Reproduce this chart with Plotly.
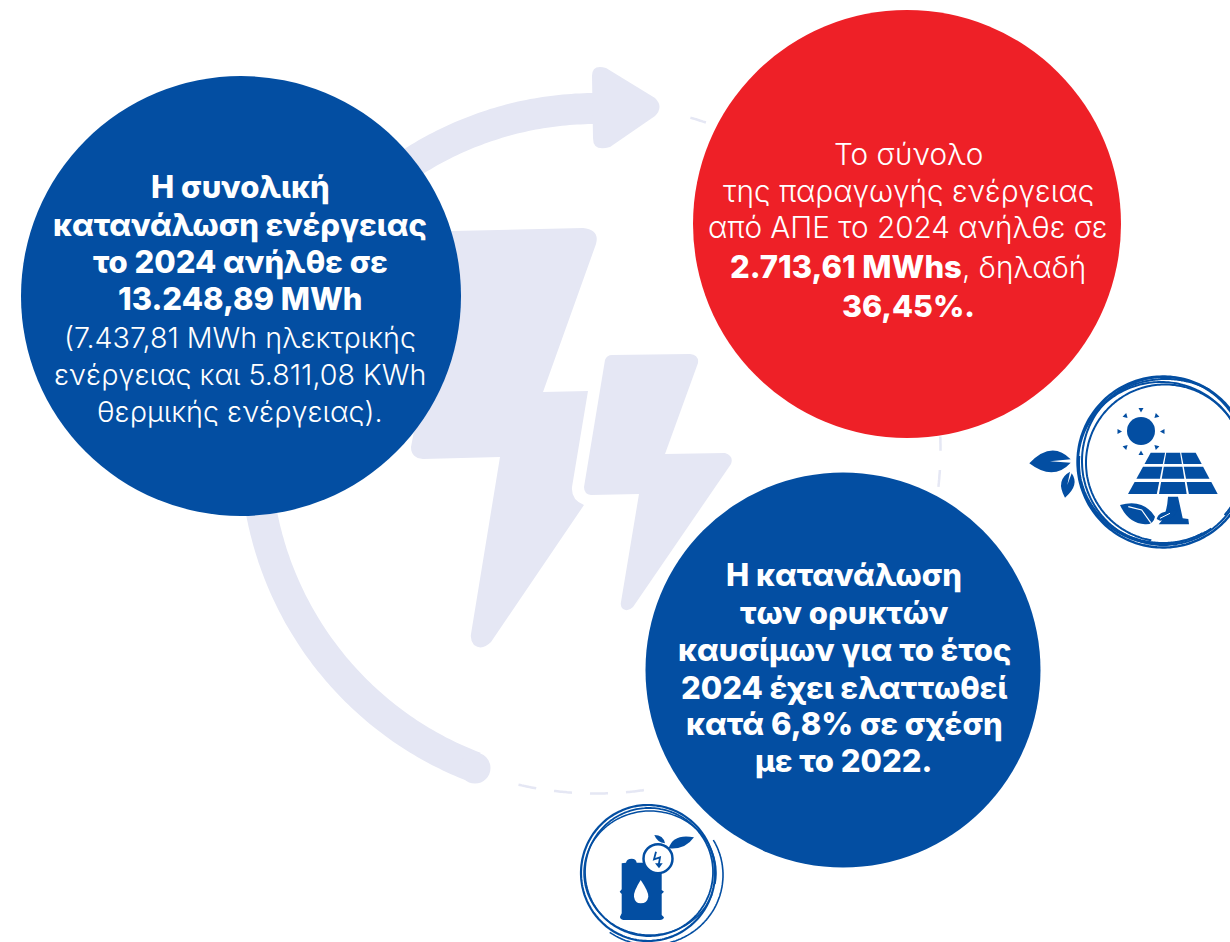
import numpy as np
import plotly.graph_objects as go

BLUE = "#034EA2"
RED = "#EE2027"
PALE = "#E5E7F4"
WHITE = "#FFFFFF"
FONT = "Inter"

LEFT_BOLD = ["Η συνολική", "κατανάλωση ενέργειας", "το 2024 ανήλθε σε", "13.248,89 MWh"]
LEFT_BOLD_Y = [186, 224, 261, 298]
LEFT_LIGHT = ["(7.437,81 MWh ηλεκτρικής", "ενέργειας και 5.811,08 KWh", "θερμικής ενέργειας)."]
LEFT_LIGHT_Y = [337, 374, 411]
RED_LIGHT = ["Το σύνολο", "της παραγωγής ενέργειας", "από ΑΠΕ το 2024 ανήλθε σε"]
RED_LIGHT_Y = [154, 191, 227]
RED_MIXED = '<span style="font-weight:800;font-size:31px">2.713,61 MWhs</span>, δηλαδή'
RED_MIXED_Y = 266
RED_BOLD = ["36,45%."]
RED_BOLD_Y = [305]
LOW_BOLD = ["Η κατανάλωση", "των ορυκτών", "καυσίμων για το έτος", "2024 έχει ελαττωθεί", "κατά 6,8% σε σχέση", "με το 2022."]
LOW_BOLD_Y = [574, 612, 649, 687, 723, 760]

shapes = []


def fill(path, color=PALE):
    shapes.append(dict(type="path", path=path, fillcolor=color, line=dict(width=0), layer="below"))


def circle(cx, cy, r, color, line=None, lw=0):
    shapes.append(dict(type="circle", x0=cx - r, x1=cx + r, y0=cy - r, y1=cy + r, fillcolor=color,
                       line=dict(width=lw, color=line or color), layer="below"))


def poly(pts, close=True):
    s = "M " + " L ".join(f"{x:.1f} {y:.1f}" for x, y in pts)
    return s + (" Z" if close else "")


def arc_pts(cx, cy, rx, ry, a0, a1, n=120):
    t = np.radians(np.linspace(a0, a1, n))
    return list(zip(cx + rx * np.cos(t), cy + ry * np.sin(t)))


def stroke(pts, color=BLUE, w=2.0):
    shapes.append(dict(type="path", path=poly(pts, close=False), line=dict(width=w, color=color), layer="below"))


CX, CY, R, BAND = 596, 449, 340.5, 15.5

# dashed ring
for a0, a1 in [(103, 100), (97, 94), (91, 88), (85, 82), (-2.1, 0.3), (3.5, 6.3), (-74.1, -71.4)]:
    stroke(arc_pts(CX, CY, 344.5, 344.5, a0, a1, 12), PALE, 2.5)

# main ring band (angles in screen degrees, y down)
a_start, a_end = 110.8, 270
outer = arc_pts(CX, CY, R + BAND, R + BAND, a_start, a_end, 240)
inner = arc_pts(CX, CY, R - BAND, R - BAND, a_end, a_start, 240)
fill(poly(outer + inner))
circle(475, 768, BAND, PALE)

# arrow head
fill("M 592 76 Q 592 64 606 68 L 655 98 Q 664 107 655 116 L 610 147 Q 593 152 593 138 Z")

# big bolt
fill("M 452 231 L 583 228 Q 600 230 596 244 L 543 392 L 588 391 L 572 487 Q 571 500 584 505 "
     "L 491 642 Q 482 651 474 645 Q 470 640 471 634 L 500 457 L 423 459 Q 411 458 411 447 Z")
# small bolt
fill("M 605 360 Q 607 355 612 355 L 690 354 Q 699 355 698 363 L 665 454 L 725 453 Q 734 456 731 464 "
     "L 633 607 Q 628 612 623 609 Q 620 606 621 602 L 639 494 L 591 495 Q 584 494 584 487 Z")

# main circles
circle(241, 296, 220, BLUE)
circle(907, 224, 214, RED)
circle(843, 670, 197.5, BLUE)


def z1(x, y):
    return 1020 + x / 3, 370 + y / 3


def z2(x, y):
    return 570 + x / 3, 800 + y / 3


def zpath(z, s):
    out = []
    tok = s.split()
    i = 0
    while i < len(tok):
        if tok[i].isalpha():
            out.append(tok[i])
            i += 1
        else:
            x, y = z(float(tok[i]), float(tok[i + 1]))
            out.append(f"{x:.1f} {y:.1f}")
            i += 2
    return " ".join(out)


# ---- solar icon ----
for cx, cy, rx, ry, a0, a1, w in [
    (1163, 462, 85.5, 85.5, 0, 360, 2.4),
    (1164, 461, 82, 84, 20, 350, 2.0),
    (1161, 463, 83, 81, 60, 400, 1.9),
    (1165, 463, 79, 78.5, 100, 380, 2.0),
    (1166, 461, 88, 82, 205, 300, 2.0),
    (1163, 463, 84, 80, 55, 185, 2.0),
]:
    stroke(arc_pts(cx, cy, rx, ry, a0, a1, 200), BLUE, w)
circle(1141, 431, 14, BLUE)
for a in range(0, 360, 45):
    rc = np.radians(a)
    d = np.array([np.cos(rc), np.sin(rc)])
    n = np.array([-d[1], d[0]])
    c = np.array([1141, 431.5])
    fill(poly([c + d * 19, c + d * 23.5 + n * 2.5, c + d * 23.5 - n * 2.5]), BLUE)

ys = [(248, 282), (290, 326), (336, 372)]
xs_t, xe_t, xs_b, xe_b = 392, 527, 324, 593
for y0, y1 in ys:
    for c in range(3):
        def edge(y, f):
            t = (y - 248) / 124
            return (xs_t + (xs_b - xs_t) * t) + ((xe_t + (xe_b - xe_t) * t) - (xs_t + (xs_b - xs_t) * t)) * f
        fa, fb = c / 3 + (0.012 if c else 0), (c + 1) / 3 - (0.012 if c < 2 else 0)
        fill(poly([z1(edge(y0, fa), y0), z1(edge(y0, fb), y0), z1(edge(y1, fb), y1), z1(edge(y1, fa), y1)]), BLUE)
fill(zpath(z1, "M 444 380 L 474 380 L 488 445 L 505 447 L 507 463 L 416 463 Q 440 440 444 380 Z"), BLUE)
fill(zpath(z1, "M 300 405 Q 370 385 405 440 Q 400 465 375 463 Q 325 460 300 405 Z"), BLUE)
stroke([z1(325, 410), z1(365, 420), z1(392, 458)], WHITE, 1.2)
fill(zpath(z1, "M 410 447 Q 415 420 472 422 Q 460 450 420 452 Z"), BLUE)
stroke([z1(420, 445), z1(450, 430)], WHITE, 1.0)
# side leaves
fill(zpath(z1, "M 28 280 Q 95 210 152 268 L 90 274 L 152 278 Q 100 335 28 280 Z"), BLUE)
fill(zpath(z1, "M 135 383 Q 105 330 150 305 L 142 345 L 155 310 Q 180 345 135 383 Z"), BLUE)

# ---- barrel icon ----
for cx, cy, rx, ry, a0, a1, w in [
    (648, 873, 67, 68, 0, 360, 2.2),
    (649, 872, 64, 64, 0, 360, 1.8),
    (650, 873, 66, 62, 20, 370, 1.5),
    (651, 875, 72, 70, -30, 125, 1.6),
]:
    stroke(arc_pts(cx, cy, rx, ry, a0, a1, 200), BLUE, w)
fill(zpath(z2, "M 155 190 L 168 188 Q 170 176 185 176 Q 198 176 200 188 L 225 188 L 275 215 L 275 270 L 282 275 L 275 282 "
               "L 275 345 L 282 352 Q 280 360 270 360 L 160 360 Q 150 358 150 350 L 155 340 L 155 282 L 149 275 L 155 268 Z"), BLUE)
fill(zpath(z2, "M 212 240 Q 190 275 192 290 Q 195 310 212 310 Q 232 310 235 290 Q 236 275 212 240 Z"), WHITE)
circle(*z2(264, 176), 14.5, WHITE, BLUE, 2.5)
stroke([z2(258, 155), z2(252, 178), z2(270, 172), z2(266, 195)], BLUE, 1.8)
fill(zpath(z2, "M 255 190 L 278 190 L 267 205 Z"), BLUE)
fill(zpath(z2, "M 296 145 Q 310 100 372 112 Q 345 150 296 145 Z"), BLUE)
fill(zpath(z2, "M 285 130 Q 280 105 253 105 Q 262 128 285 130 Z"), BLUE)

# ---- text ----
annots = []


def add_text(lines, ys_, cx, size, weight):
    for t, y in zip(lines, ys_):
        annots.append(dict(x=cx, y=y, text=t, showarrow=False, xanchor="center", yanchor="middle",
                           font=dict(family=FONT, size=size, color=WHITE, weight=weight)))


add_text(LEFT_BOLD, LEFT_BOLD_Y, 240, 31, 800)
add_text(LEFT_LIGHT, LEFT_LIGHT_Y, 240, 28.7, 300)
add_text(RED_LIGHT, RED_LIGHT_Y, 908, 29.7, 300)
add_text([RED_MIXED], [RED_MIXED_Y], 908, 29.7, 300)
add_text(RED_BOLD, RED_BOLD_Y, 908, 30.5, 800)
add_text(LOW_BOLD, LOW_BOLD_Y, 844, 31, 800)

fig = go.Figure()
fig.update_layout(width=1230, height=942, margin=dict(l=0, r=0, t=0, b=0), autosize=False,
                  paper_bgcolor=WHITE, plot_bgcolor=WHITE, showlegend=False,
                  xaxis=dict(range=[0, 1230], visible=False, fixedrange=True),
                  yaxis=dict(range=[942, 0], visible=False, fixedrange=True),
                  shapes=shapes, annotations=annots)
fig.write_html("out.html", config={"displayModeBar": False},
               post_script="document.body.style.margin='0';document.body.style.overflow='hidden';")
